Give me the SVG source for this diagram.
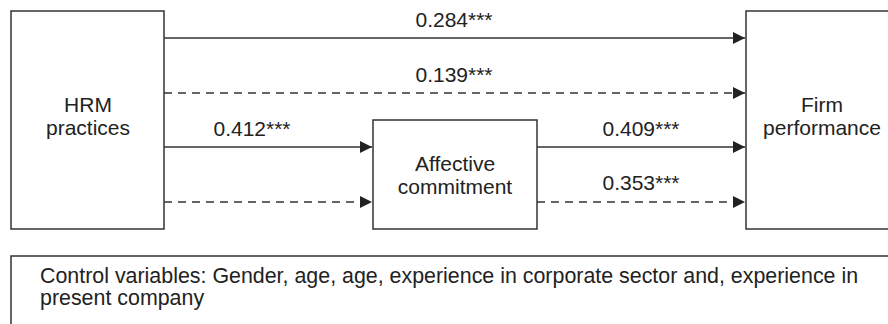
<svg xmlns="http://www.w3.org/2000/svg" width="888" height="324" viewBox="0 0 888 324">
  <defs>
    <marker id="arrow" markerWidth="12" markerHeight="12" refX="12" refY="6" orient="auto" markerUnits="userSpaceOnUse">
      <path d="M0,0 L12,6 L0,12 Z" fill="#222"/>
    </marker>
    <style>
      .box { fill: #fff; stroke: #333; stroke-width: 1.5; }
      .lbl { font-family: "Liberation Sans", Arial, sans-serif; font-size: 21px; fill: #222; }
      .note { font-size: 21.4px; }
      .mid { text-anchor: middle; }
      .edge { stroke: #333; stroke-width: 1.4; fill: none; marker-end: url(#arrow); }
      .dash { stroke-dasharray: 8 6; }
    </style>
  </defs>

  <rect width="888" height="324" fill="#fff"/>

  <!-- connectors -->
  <g id="connectors">
    <line class="edge" x1="164" y1="38" x2="745" y2="38"/>
    <line class="edge dash" x1="164" y1="93" x2="745" y2="93"/>
    <line class="edge" x1="164" y1="147" x2="372" y2="147"/>
    <line class="edge dash" x1="164" y1="202" x2="372" y2="202"/>
    <line class="edge" x1="537" y1="147" x2="745" y2="147"/>
    <line class="edge dash" x1="537" y1="202" x2="745" y2="202"/>
    <text class="lbl mid" x="454" y="27">0.284***</text>
    <text class="lbl mid" x="454" y="82">0.139***</text>
    <text class="lbl mid" x="252" y="136">0.412***</text>
    <text class="lbl mid" x="641" y="136">0.409***</text>
    <text class="lbl mid" x="641" y="190">0.353***</text>
  </g>

  <!-- nodes -->
  <g id="hrm">
    <rect class="box" x="11" y="11" width="153" height="218"/>
    <text class="lbl mid" x="88" y="112">HRM</text>
    <text class="lbl mid" x="88" y="135">practices</text>
  </g>

  <g id="affective">
    <rect class="box" x="373" y="120" width="164" height="109"/>
    <text class="lbl mid" x="455" y="171">Affective</text>
    <text class="lbl mid" x="455" y="194">commitment</text>
  </g>

  <g id="firm">
    <rect class="box" x="746" y="11" width="160" height="218"/>
    <text class="lbl mid" x="822" y="112">Firm</text>
    <text class="lbl mid" x="822" y="135">performance</text>
  </g>

  <g id="controls">
    <rect class="box" x="11" y="256" width="900" height="100"/>
    <text class="lbl note" x="40" y="283">Control variables: Gender, age, age, experience in corporate sector and, experience in</text>
    <text class="lbl note" x="40" y="305">present company</text>
  </g>
</svg>
